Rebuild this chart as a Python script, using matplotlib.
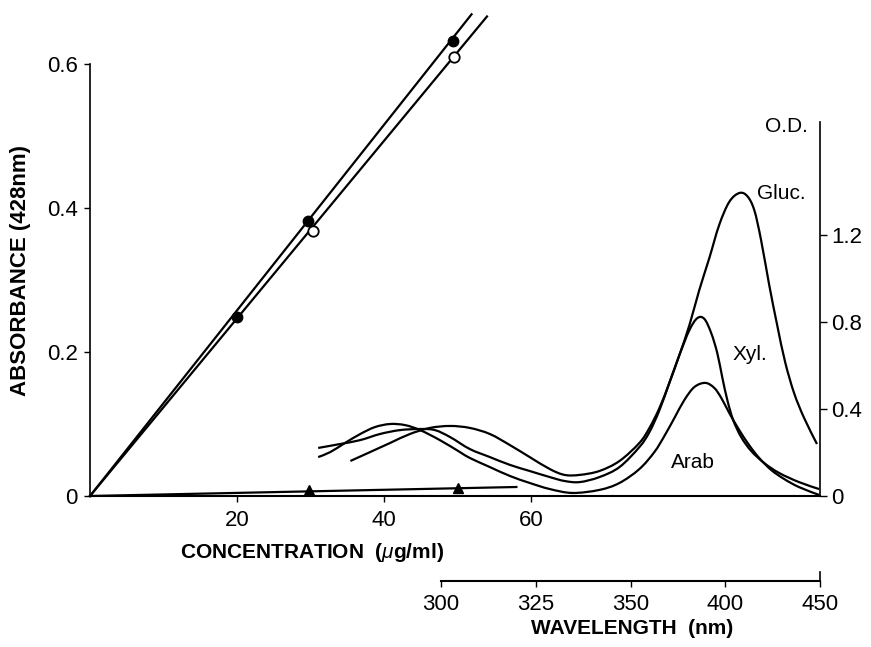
import numpy as np
import matplotlib
matplotlib.use("Agg")
import matplotlib.pyplot as plt
from matplotlib.path import Path
from matplotlib.patches import PathPatch

plt.rcParams['font.family'] = ['Liberation Sans', 'DejaVu Sans']
plt.rcParams['mathtext.fontset'] = 'custom'
plt.rcParams['mathtext.rm'] = 'Liberation Sans'
plt.rcParams['mathtext.it'] = 'Liberation Sans:italic'
plt.rcParams['mathtext.bf'] = 'Liberation Sans:bold'

# ---------------- calibration data (left / bottom axes) ----------------
conc_filled = [20, 29.6, 49.4]
abs_filled = [0.249, 0.382, 0.632]
conc_filled_line = [0, 51.9]
abs_filled_line = [0, 0.669]

conc_open = [30.3, 49.5]
abs_open = [0.368, 0.610]
conc_open_line = [0, 54.0]
abs_open_line = [0, 0.666]

conc_tri = [29.8, 50.0]
abs_tri = [0.008, 0.011]
conc_tri_line = [0, 58.0]
abs_tri_line = [0, 0.0125]

conc_ticks = [20, 40, 60]
abs_ticks = [0, 0.2, 0.4, 0.6]
abs_tick_labels = ['0', '0.2', '0.4', '0.6']

# ---------------- spectra (wavelength / O.D.) ----------------
wl_ticks = [300, 325, 350, 400, 450]
od_ticks = [0, 0.4, 0.8, 1.2]
od_tick_labels = ['0', '0.4', '0.8', '1.2']

gluc_wl = [276.1, 281.3, 286.6, 291.8, 297.1, 302.4, 307.6, 312.9, 318.2, 323.4,
           328.7, 332.6, 336.6, 341.8, 347.1, 354.7, 360.0, 365.3, 370.5, 375.8,
           381.1, 386.3, 391.6, 396.8, 402.1, 407.4, 411.6, 415.3, 418.9, 423.2,
           427.4, 431.6, 436.3, 441.6, 448.4]
gluc_od = [0.161, 0.202, 0.244, 0.285, 0.313, 0.322, 0.313, 0.285, 0.234, 0.179,
           0.124, 0.097, 0.097, 0.115, 0.161, 0.244, 0.313, 0.405, 0.520, 0.648,
           0.786, 0.947, 1.094, 1.246, 1.352, 1.393, 1.379, 1.315, 1.177, 0.970,
           0.786, 0.616, 0.474, 0.359, 0.239]

xyl_wl = [267.6, 273.4, 278.7, 283.9, 289.2, 294.5, 298.4, 302.4, 307.6, 312.9,
          318.2, 323.4, 328.7, 332.6, 336.6, 341.8, 347.1, 354.7, 360.0, 365.3,
          370.5, 375.8, 381.1, 385.3, 389.0, 392.6, 395.8, 398.4, 401.1, 404.2,
          408.4, 413.7, 420.5, 428.4, 438.9, 449.5]
xyl_od = [0.221, 0.239, 0.257, 0.285, 0.303, 0.308, 0.303, 0.271, 0.216, 0.179,
          0.143, 0.115, 0.087, 0.069, 0.064, 0.087, 0.133, 0.225, 0.294, 0.395,
          0.520, 0.648, 0.763, 0.818, 0.814, 0.749, 0.657, 0.547, 0.441, 0.349,
          0.271, 0.207, 0.152, 0.106, 0.064, 0.032]

arab_wl = [267.6, 270.8, 274.7, 278.7, 282.6, 286.6, 290.5, 294.5, 299.7, 305.0,
           307.6, 312.9, 318.2, 323.4, 328.7, 334.7, 341.8, 347.1, 354.7, 362.6,
           367.9, 373.2, 378.4, 383.7, 389.5, 394.2, 397.9, 402.1, 407.4, 412.6,
           417.9, 424.2, 431.1, 438.9, 449.5]
arab_od = [0.179, 0.202, 0.244, 0.285, 0.317, 0.331, 0.326, 0.303, 0.257, 0.202,
           0.175, 0.133, 0.092, 0.060, 0.032, 0.014, 0.028, 0.060, 0.124, 0.202,
           0.276, 0.359, 0.441, 0.501, 0.520, 0.497, 0.451, 0.382, 0.303, 0.234,
           0.175, 0.120, 0.078, 0.041, 0.005]

# piecewise-linear wavelength scale (ticks equally spaced)
_WL = np.array(wl_ticks, float)
_POS = np.arange(len(wl_ticks), dtype=float)


def wl_fwd(w):
    w = np.asarray(w, float)
    p = np.interp(w, _WL, _POS)
    p = np.where(w < _WL[0], (w - _WL[0]) / (_WL[1] - _WL[0]), p)
    p = np.where(w > _WL[-1], _POS[-1] + (w - _WL[-1]) / (_WL[-1] - _WL[-2]), p)
    return p


def wl_inv(p):
    p = np.asarray(p, float)
    w = np.interp(p, _POS, _WL)
    w = np.where(p < 0, _WL[0] + p * (_WL[1] - _WL[0]), w)
    w = np.where(p > _POS[-1], _WL[-1] + (p - _POS[-1]) * (_WL[-1] - _WL[-2]), w)
    return w


def smooth_curve(axis, wl, od, **kw):
    """Draw a smooth Bezier path through the given points (Catmull-Rom)."""
    p = wl_fwd(wl)
    y = np.asarray(od, float)
    pts = np.column_stack([p, y])
    n = len(pts)
    ext = np.vstack([pts[0], pts, pts[-1]])
    verts = [pts[0]]
    codes = [Path.MOVETO]
    for i in range(n - 1):
        p0, p1, p2, p3 = ext[i], ext[i + 1], ext[i + 2], ext[i + 3]
        c1 = p1 + (p2 - p0) / 6.0
        c2 = p2 - (p3 - p1) / 6.0
        verts += [c1, c2, p2]
        codes += [Path.CURVE4] * 3
    verts = np.array(verts)
    verts[:, 0] = wl_inv(verts[:, 0])
    patch = PathPatch(Path(verts, codes), facecolor='none', transform=axis.transData, **kw)
    axis.add_patch(patch)


W, H = 871, 647
fig = plt.figure(figsize=(W / 100, H / 100), dpi=100)

x0, x1 = 90, 820
ybot, ytop = 496, 10
rect = [x0 / W, (H - ybot) / H, (x1 - x0) / W, (ybot - ytop) / H]

FS = 16      # tick labels
LFS = 15     # axis labels
AFS = 15     # annotations
LW = 1.6
black = 'black'

# ---------- calibration axes ----------
ax = fig.add_axes(rect)
ax.patch.set_alpha(0)
ax.set_xlim(0, 99.3)
ax.set_ylim(0, 0.675)
for s in ['top', 'right']:
    ax.spines[s].set_visible(False)
ax.spines['left'].set_bounds(0, 0.6)
ax.spines['left'].set_linewidth(1.2)
ax.spines['bottom'].set_linewidth(1.5)
ax.set_xticks(conc_ticks)
ax.set_yticks(abs_ticks)
ax.set_yticklabels(abs_tick_labels)
ax.tick_params(axis='x', length=4, width=1, labelsize=FS, pad=6)
ax.tick_params(axis='y', length=4, width=1, labelsize=FS, pad=5)
ax.set_xlabel(r'CONCENTRATION  ($\mu$g/ml)', fontsize=LFS, fontweight='bold')
ax.xaxis.set_label_coords((312 - x0) / (x1 - x0), -(552 - ybot) / (ybot - ytop))
ax.xaxis.label.set_va('center')
ax.set_ylabel('ABSORBANCE (428nm)', fontsize=16, fontweight='bold')
ax.yaxis.set_label_coords(-(x0 - 20) / (x1 - x0), (ybot - 270) / (ybot - ytop))
ax.yaxis.label.set_va('center')

ax.plot(conc_filled_line, abs_filled_line, color=black, lw=LW, clip_on=False)
ax.plot(conc_open_line, abs_open_line, color=black, lw=LW, clip_on=False)
ax.plot(conc_tri_line, abs_tri_line, color=black, lw=LW, clip_on=False)
ax.plot(conc_filled, abs_filled, 'o', ms=7.5, color=black, clip_on=False, zorder=5)
ax.plot(conc_open, abs_open, 'o', ms=7.5, mfc='white', mec=black, mew=1.3,
        clip_on=False, zorder=5)
ax.plot(conc_tri, abs_tri, '^', ms=7, color=black, clip_on=False, zorder=5)

# ---------- spectra axes ----------
axs = fig.add_axes(rect)
axs.patch.set_alpha(0)
axs.set_xscale('function', functions=(wl_fwd, wl_inv))
axs.set_xlim(207.4, 450)
axs.set_ylim(0, (ybot - ytop) / 217.5)
for s in ['top', 'left', 'bottom']:
    axs.spines[s].set_visible(False)
axs.spines['right'].set_bounds(0, 1.72)
axs.spines['right'].set_linewidth(1.2)
axs.xaxis.set_visible(False)
axs.yaxis.tick_right()
axs.set_yticks(od_ticks)
axs.set_yticklabels(od_tick_labels)
axs.tick_params(axis='y', length=5, width=1, labelsize=FS, pad=3)

for wl, od in [(gluc_wl, gluc_od), (xyl_wl, xyl_od), (arab_wl, arab_od)]:
    smooth_curve(axs, wl, od, edgecolor=black, lw=LW, joinstyle='round')

axs.text(443.7, 1.70, 'O.D.', fontsize=AFS, ha='right', va='center')
axs.text(416.5, 1.39, 'Gluc.', fontsize=AFS, ha='left', va='center')
axs.text(404.0, 0.65, 'Xyl.', fontsize=AFS, ha='left', va='center')
axs.text(371.5, 0.155, 'Arab', fontsize=AFS, ha='left', va='center')

# ---------- wavelength axis ----------
wx0, wx1, wy = 441, 820, 581
axw_h = 0.02
axw = fig.add_axes([wx0 / W, (H - wy) / H, (wx1 - wx0) / W, axw_h])
axw.patch.set_alpha(0)
axw.set_xscale('function', functions=(wl_fwd, wl_inv))
axw.set_xlim(wl_ticks[0], wl_ticks[-1])
for s in ['top', 'left', 'right']:
    axw.spines[s].set_visible(False)
axw.spines['bottom'].set_linewidth(1.5)
axw.set_yticks([])
axw.set_xticks(wl_ticks)
axw.set_xticklabels([str(v) for v in wl_ticks])
axw.tick_params(axis='x', length=4, width=1, labelsize=FS, pad=5)
axw.plot([wl_ticks[-1], wl_ticks[-1]], [0, 0.7], color=black, lw=1.2,
         transform=axw.get_xaxis_transform(), clip_on=False)
axw.set_xlabel('WAVELENGTH  (nm)', fontsize=LFS, fontweight='bold')
axw.xaxis.set_label_coords((632 - wx0) / (wx1 - wx0), -(628 - wy) / (axw_h * H))
axw.xaxis.label.set_va('center')

fig.savefig('out.png', dpi=100)
